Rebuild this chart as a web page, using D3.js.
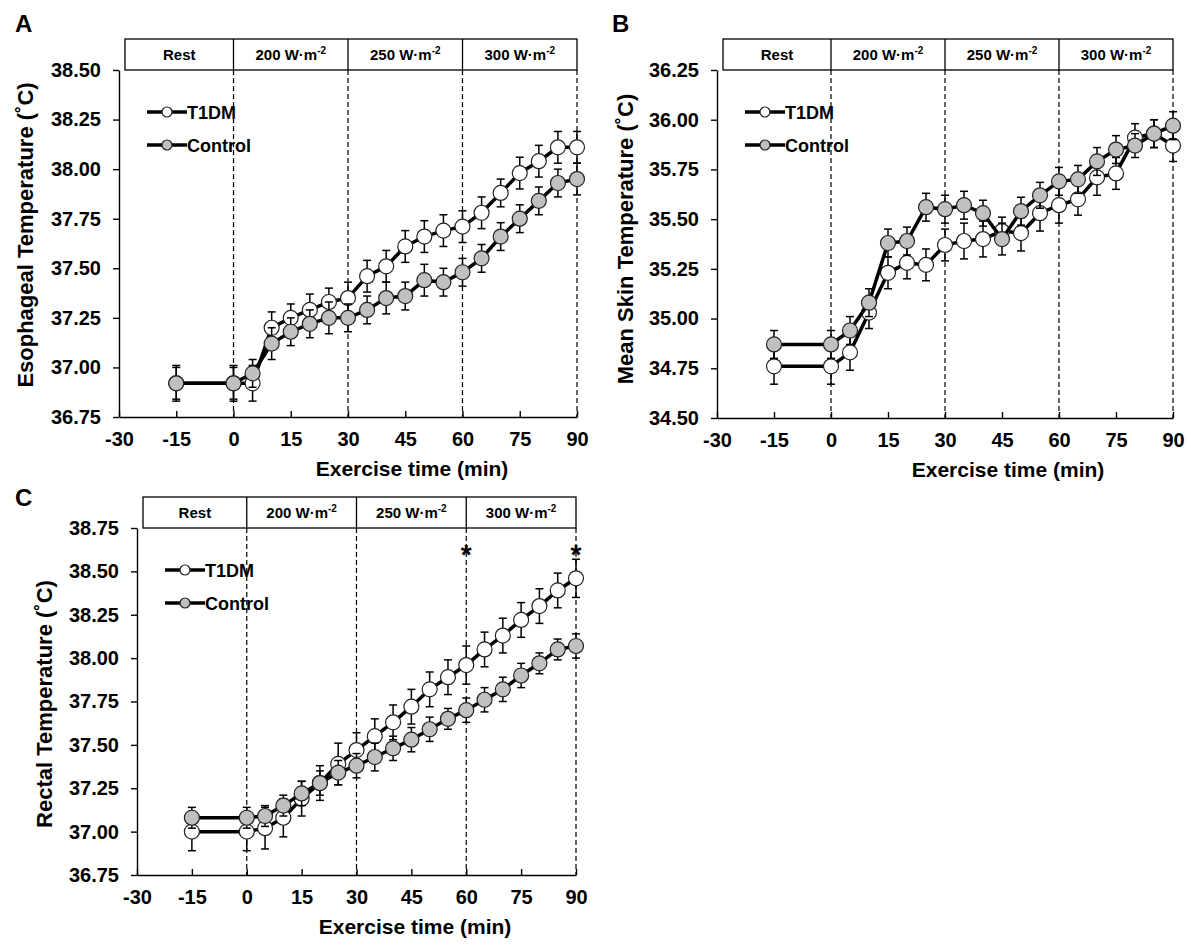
<!DOCTYPE html>
<html>
<head>
<meta charset="utf-8">
<script src="https://cdn.jsdelivr.net/npm/d3@7"></script>
<style>
  body { margin: 0; background: #fff; }
  svg { font-family: Arial, "Liberation Sans", sans-serif; }
</style>
</head>
<body>
<svg id="fig" width="1191" height="945"></svg>
<script>
'use strict';

// sampling times (min), shared by all three panels
var times = [-15, 0, 5, 10, 15, 20, 25, 30, 35, 40, 45, 50, 55, 60, 65, 70, 75, 80, 85, 90];
var xTicks = [-30, -15, 0, 15, 30, 45, 60, 75, 90];
var stageLabels = ['Rest', '200', '250', '300'];
var stageEnds = [0, 30, 60, 90];
var groupNames = ['T1DM', 'Control'];

// A - esophageal temperature
var esoTicks = [36.75, 37.00, 37.25, 37.50, 37.75, 38.00, 38.25, 38.50];
var esoT1dm = [36.92, 36.92, 36.92, 37.20, 37.25, 37.29, 37.33, 37.35, 37.46, 37.51, 37.61, 37.66, 37.69, 37.71, 37.78, 37.88, 37.98, 38.04, 38.11, 38.11];
var esoT1dmSe = [0.09, 0.09, 0.09, 0.08, 0.07, 0.08, 0.07, 0.08, 0.08, 0.08, 0.08, 0.08, 0.08, 0.08, 0.08, 0.07, 0.08, 0.08, 0.08, 0.08];
var esoCtrl = [36.92, 36.92, 36.97, 37.12, 37.18, 37.22, 37.25, 37.25, 37.29, 37.35, 37.36, 37.44, 37.43, 37.48, 37.55, 37.66, 37.75, 37.84, 37.93, 37.95];
var esoCtrlSe = [0.08, 0.08, 0.07, 0.08, 0.07, 0.07, 0.08, 0.07, 0.07, 0.08, 0.07, 0.08, 0.07, 0.07, 0.07, 0.07, 0.07, 0.07, 0.07, 0.08];

// B - mean skin temperature
var skinTicks = [34.50, 34.75, 35.00, 35.25, 35.50, 35.75, 36.00, 36.25];
var skinT1dm = [34.76, 34.76, 34.83, 35.03, 35.23, 35.28, 35.27, 35.37, 35.39, 35.40, 35.44, 35.43, 35.53, 35.57, 35.60, 35.71, 35.73, 35.91, 35.93, 35.87];
var skinT1dmSe = [0.09, 0.09, 0.09, 0.08, 0.08, 0.08, 0.08, 0.08, 0.09, 0.09, 0.07, 0.09, 0.09, 0.09, 0.08, 0.09, 0.08, 0.07, 0.07, 0.08];
var skinCtrl = [34.87, 34.87, 34.94, 35.08, 35.38, 35.39, 35.56, 35.55, 35.57, 35.53, 35.40, 35.54, 35.62, 35.69, 35.70, 35.79, 35.85, 35.87, 35.93, 35.97];
var skinCtrlSe = [0.07, 0.07, 0.07, 0.07, 0.07, 0.07, 0.07, 0.07, 0.07, 0.065, 0.08, 0.07, 0.065, 0.07, 0.07, 0.07, 0.07, 0.06, 0.07, 0.07];

// C - rectal temperature
var recTicks = [36.75, 37.00, 37.25, 37.50, 37.75, 38.00, 38.25, 38.50, 38.75];
var recT1dm = [37.00, 37.00, 37.02, 37.08, 37.19, 37.28, 37.39, 37.47, 37.55, 37.63, 37.72, 37.82, 37.89, 37.96, 38.05, 38.13, 38.22, 38.30, 38.39, 38.46];
var recT1dmSe = [0.11, 0.11, 0.12, 0.11, 0.10, 0.10, 0.12, 0.10, 0.10, 0.10, 0.10, 0.10, 0.10, 0.11, 0.10, 0.10, 0.10, 0.10, 0.10, 0.11];
var recCtrl = [37.08, 37.08, 37.09, 37.15, 37.22, 37.28, 37.34, 37.38, 37.43, 37.48, 37.53, 37.59, 37.65, 37.70, 37.76, 37.82, 37.90, 37.97, 38.05, 38.07];
var recCtrlSe = [0.06, 0.06, 0.06, 0.06, 0.07, 0.07, 0.07, 0.07, 0.08, 0.07, 0.07, 0.07, 0.06, 0.07, 0.07, 0.07, 0.07, 0.06, 0.06, 0.07];
var recSigTimes = [60, 90];

var svg = d3.select('#fig');
var fills = ['#ffffff', '#c0c0c0'];

var panels = [
  {letter: 'A', lx: 15, ly: 32, left: 119, right: 577, top: 70, bottom: 417,
   ticks: esoTicks, title: 'Esophageal Temperature (˚C)', tx: 33, ty: 235, xTitle: 412,
   series: [[esoT1dm, esoT1dmSe], [esoCtrl, esoCtrlSe]], sig: []},
  {letter: 'B', lx: 612, ly: 32, left: 717, right: 1173, top: 70, bottom: 418,
   ticks: skinTicks, title: 'Mean Skin Temperature (˚C)', tx: 633, ty: 239, xTitle: 1008,
   series: [[skinT1dm, skinT1dmSe], [skinCtrl, skinCtrlSe]], sig: []},
  {letter: 'C', lx: 15, ly: 506, left: 137, right: 576, top: 528, bottom: 875,
   ticks: recTicks, title: 'Rectal Temperature (˚C)', tx: 52, ty: 704, xTitle: 415,
   series: [[recT1dm, recT1dmSe], [recCtrl, recCtrlSe]], sig: recSigTimes}
];

function drawPanel(p) {
  var g = svg.append('g');
  var x = d3.scaleLinear().domain([-30, 90]).range([p.left, p.right]);
  var y = d3.scaleLinear().domain([p.ticks[0], p.ticks[p.ticks.length - 1]]).range([p.bottom, p.top]);

  g.append('text').attr('x', p.lx).attr('y', p.ly)
    .attr('font-size', 24).attr('font-weight', 'bold').text(p.letter);

  // stage header
  var boxL = p.left + 6, boxT = p.top - 31;
  var edges = [boxL].concat(stageEnds.map(x));
  g.append('rect').attr('x', boxL).attr('y', boxT)
    .attr('width', x(90) - boxL).attr('height', 31)
    .attr('fill', 'none').attr('stroke', '#000').attr('stroke-width', 1.3);
  stageLabels.forEach(function(s, i) {
    if (i > 0) {
      g.append('line').attr('x1', edges[i]).attr('x2', edges[i])
        .attr('y1', boxT).attr('y2', p.top).attr('stroke', '#000').attr('stroke-width', 1.3);
    }
    var t = g.append('text').attr('x', (edges[i] + edges[i + 1]) / 2).attr('y', boxT + 21)
      .attr('text-anchor', 'middle').attr('font-size', 15).attr('font-weight', 'bold');
    if (i === 0) {
      t.text(s);
    } else {
      t.append('tspan').text(s + ' W·m');
      t.append('tspan').attr('dy', -6).attr('font-size', 10).text('-2');
    }
  });

  // dashed stage dividers
  g.selectAll('.div').data(stageEnds).enter().append('line')
    .attr('x1', x).attr('x2', x).attr('y1', p.top).attr('y2', p.bottom)
    .attr('stroke', '#000').attr('stroke-width', 1.2).attr('stroke-dasharray', '5,3');

  // axes
  var ya = g.append('g').attr('transform', 'translate(' + p.left + ',0)')
    .call(d3.axisLeft(y).tickValues(p.ticks).tickFormat(function(d) { return d.toFixed(2); })
      .tickSize(6).tickSizeOuter(0).tickPadding(12));
  ya.selectAll('text').attr('font-size', 20).attr('font-weight', 'bold').attr('fill', '#000');

  var xa = g.append('g').attr('transform', 'translate(0,' + p.bottom + ')')
    .call(d3.axisBottom(x).tickValues(xTicks).tickFormat(function(d) { return String(d); })
      .tickSize(-6).tickSizeOuter(0).tickPadding(15));
  xa.selectAll('text').attr('font-size', 20).attr('font-weight', 'bold').attr('fill', '#000');
  g.selectAll('.domain, .tick line').attr('stroke', '#000').attr('stroke-width', 1.4);

  g.append('text').attr('x', p.xTitle).attr('y', p.bottom + 59)
    .attr('text-anchor', 'middle').attr('font-size', 21).attr('font-weight', 'bold')
    .text('Exercise time (min)');

  g.append('text').attr('transform', 'translate(' + p.tx + ',' + p.ty + ') rotate(-90)')
    .attr('text-anchor', 'middle').attr('font-size', 22).attr('font-weight', 'bold')
    .text(p.title);

  // data series: T1DM first, control drawn on top
  var line = d3.line().x(function(d) { return x(d.t); }).y(function(d) { return y(d.v); });
  p.series.forEach(function(s, k) {
    var pts = times.map(function(t, i) { return {t: t, v: s[0][i], e: s[1][i]}; });
    var sg = g.append('g');
    sg.append('path').datum(pts).attr('d', line)
      .attr('fill', 'none').attr('stroke', '#000').attr('stroke-width', 3.5);
    var eb = sg.selectAll('.err').data(pts).enter().append('g').attr('stroke', '#000').attr('stroke-width', 1.5);
    eb.append('line').attr('x1', function(d) { return x(d.t); }).attr('x2', function(d) { return x(d.t); })
      .attr('y1', function(d) { return y(d.v - d.e); }).attr('y2', function(d) { return y(d.v + d.e); });
    [-1, 1].forEach(function(sgn) {
      eb.append('line').attr('x1', function(d) { return x(d.t) - 4; }).attr('x2', function(d) { return x(d.t) + 4; })
        .attr('y1', function(d) { return y(d.v + sgn * d.e); }).attr('y2', function(d) { return y(d.v + sgn * d.e); });
    });
    sg.selectAll('circle').data(pts).enter().append('circle')
      .attr('cx', function(d) { return x(d.t); }).attr('cy', function(d) { return y(d.v); })
      .attr('r', 7.5).attr('fill', fills[k]).attr('stroke', '#222').attr('stroke-width', 1.2);
  });

  // significance marks
  p.sig.forEach(function(t) {
    g.append('text').attr('x', x(t)).attr('y', p.top + 36).attr('text-anchor', 'middle')
      .attr('font-size', 28).attr('font-weight', 'bold').text('*');
  });

  // legend
  groupNames.forEach(function(name, k) {
    var lx = p.left + 28, ly = p.top + 42 + k * 33;
    g.append('line').attr('x1', lx).attr('x2', lx + 40).attr('y1', ly).attr('y2', ly)
      .attr('stroke', '#000').attr('stroke-width', 3.5);
    g.append('circle').attr('cx', lx + 20).attr('cy', ly).attr('r', 5)
      .attr('fill', fills[k]).attr('stroke', '#222').attr('stroke-width', 1.2);
    g.append('text').attr('x', lx + 40).attr('y', ly + 6.5)
      .attr('font-size', 18).attr('font-weight', 'bold').text(name);
  });
}

panels.forEach(drawPanel);
</script>
</body>
</html>
